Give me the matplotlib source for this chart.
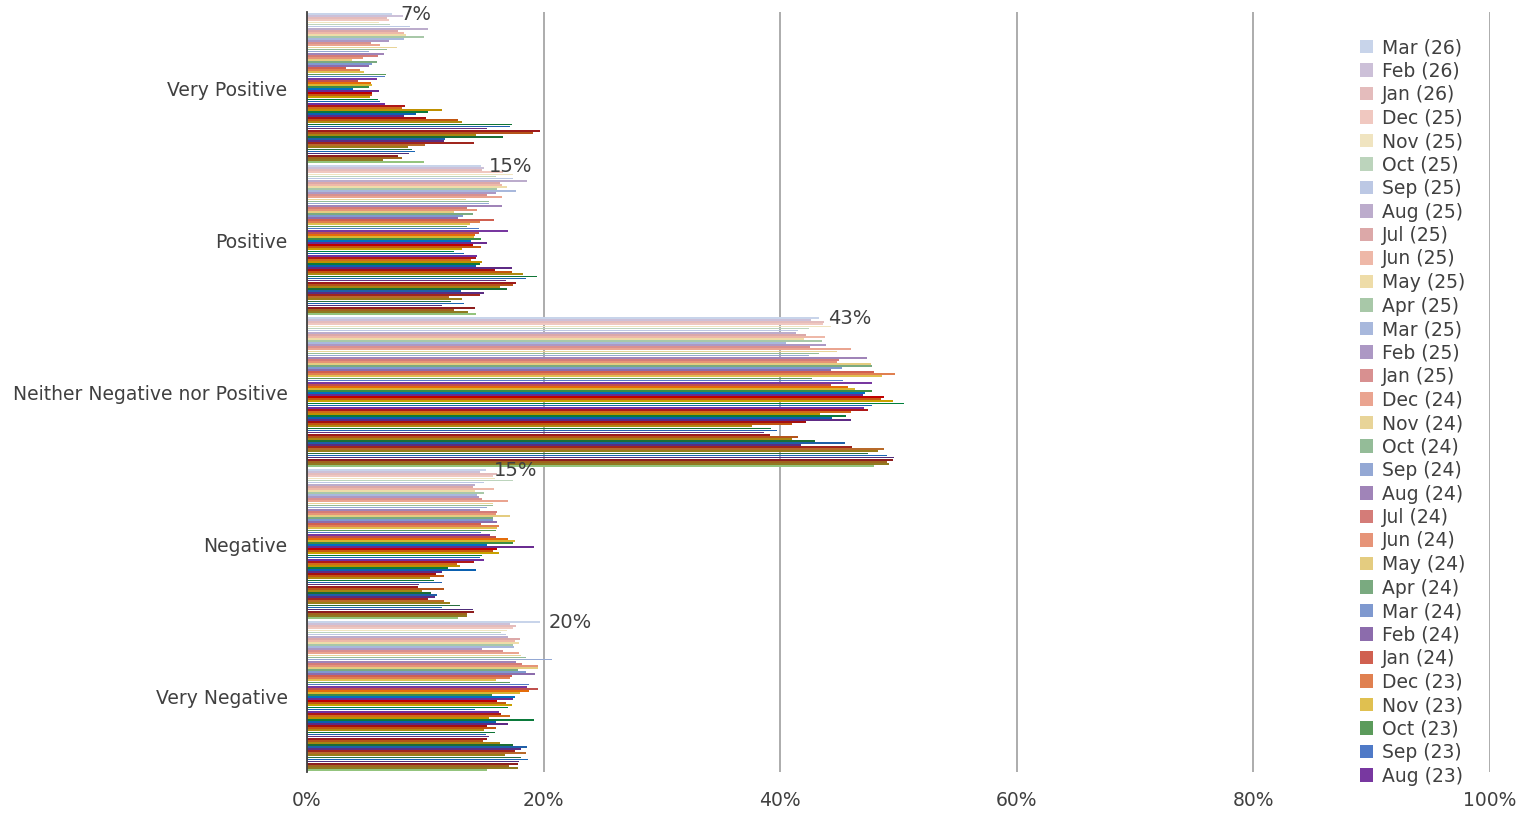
import numpy as np
import matplotlib.pyplot as plt
from matplotlib.patches import Patch

# categorias (eixo y, de cima para baixo)
categorias = ['Very Positive', 'Positive', 'Neither Negative nor Positive',
              'Negative', 'Very Negative']

# valores (%) por categoria, da serie mais recente (Mar 26) para a mais antiga
muito_pos = [7.2, 8.1, 6.8, 6.9, 6.1, 7.0, 8.7, 10.2, 7.7, 8.2,
             8.4, 9.9, 8.2, 6.9, 5.4, 6.2, 7.6, 6.8, 5.2, 6.5,
             6.0, 4.7, 3.8, 5.9, 5.5, 5.2, 3.3, 4.5, 4.8, 6.7,
             6.6, 5.9, 4.3, 5.4, 5.5, 5.2, 3.9, 6.1, 5.5, 5.5,
             5.3, 6.0, 6.2, 6.6, 8.3, 8.0, 11.4, 10.2, 9.2, 8.2,
             10.1, 12.8, 13.1, 17.3, 17.2, 15.2, 19.7, 19.1, 14.3, 16.6,
             11.7, 11.6, 14.1, 10.0, 8.5, 8.9, 9.1, 8.6, 7.7, 8.0,
             6.4, 9.9]
positivo = [14.7, 15.0, 14.8, 16.6, 17.4, 16.0, 17.4, 18.6, 16.3, 16.5,
            16.9, 16.1, 17.7, 16.0, 15.2, 16.5, 13.4, 15.4, 15.4, 16.5,
            13.5, 14.4, 12.4, 14.0, 13.2, 12.8, 15.8, 14.6, 13.8, 13.5,
            14.5, 17.0, 14.5, 14.2, 14.1, 14.7, 13.9, 15.2, 14.0, 14.7,
            13.1, 12.4, 13.3, 14.4, 14.3, 13.9, 14.8, 14.6, 14.3, 17.3,
            15.9, 17.3, 18.3, 19.4, 18.5, 16.8, 17.7, 17.4, 16.3, 16.9,
            13.0, 15.0, 14.6, 12.0, 13.1, 12.2, 13.3, 11.4, 14.2, 12.4,
            13.6, 14.3]
neutro = [43.3, 42.6, 43.7, 43.6, 44.3, 42.4, 41.5, 41.3, 42.2, 43.8,
          42.0, 43.5, 40.5, 43.9, 42.5, 46.0, 44.8, 43.3, 42.4, 47.3,
          45.0, 44.8, 47.7, 47.8, 45.2, 44.3, 47.9, 49.7, 48.6, 42.7,
          45.3, 47.8, 44.3, 45.7, 46.3, 47.8, 47.2, 47.0, 48.8, 48.5,
          49.5, 50.5, 47.8, 47.1, 47.4, 46.0, 43.4, 45.6, 44.4, 46.0,
          42.2, 41.0, 37.6, 39.2, 39.7, 38.6, 39.1, 41.5, 41.0, 42.9,
          45.5, 41.8, 46.1, 48.8, 48.3, 47.4, 49.0, 49.6, 49.5, 49.0,
          49.2, 47.9]
negativo = [15.1, 14.6, 16.1, 15.7, 15.9, 17.4, 15.0, 14.2, 14.0, 15.8,
            14.2, 15.0, 14.4, 14.5, 14.8, 17.0, 15.7, 15.7, 15.2, 14.6,
            16.1, 16.0, 17.2, 15.7, 15.7, 16.1, 14.7, 16.2, 16.1, 16.0,
            14.7, 15.5, 16.0, 17.0, 17.6, 17.4, 15.2, 19.2, 16.1, 15.7,
            16.2, 14.8, 14.6, 15.0, 14.1, 12.7, 12.9, 11.9, 14.3, 11.4,
            10.9, 11.6, 10.4, 10.7, 11.4, 9.5, 9.4, 11.6, 9.7, 10.5,
            11.0, 10.8, 10.2, 11.6, 12.1, 12.9, 11.4, 14.0, 14.1, 13.5,
            13.5, 12.8]
muito_neg = [19.7, 17.2, 17.7, 17.4, 16.9, 16.4, 16.8, 17.0, 18.0, 17.6,
             17.9, 17.4, 17.5, 14.8, 16.6, 17.9, 18.1, 18.5, 20.7, 17.7,
             18.2, 19.5, 19.5, 17.8, 18.5, 19.3, 17.3, 17.2, 16.0, 17.2,
             18.8, 18.6, 19.5, 18.8, 18.0, 15.6, 17.6, 17.4, 16.1, 16.8,
             17.3, 17.0, 14.2, 16.2, 16.4, 17.2, 15.4, 19.2, 16.0, 17.0,
             15.2, 16.0, 15.0, 15.9, 15.1, 15.4, 15.2, 14.9, 16.3, 17.4,
             18.6, 18.1, 17.6, 18.5, 16.7, 18.1, 18.7, 17.9, 17.8, 17.1,
             17.8, 15.2]

# cores: blocos de 6 (azul, roxo, vermelho, laranja, amarelo, verde), do claro ao escuro
cores_blocos = [
    ['#C8D4EA', '#CCC0D8', '#E4BCBC', '#F0C8C0', '#F0E4C0', '#BCD4BC'],
    ['#BCC8E4', '#BCACCC', '#DCA8A8', '#EEB8A8', '#EEDCA8', '#A8C8A8'],
    ['#A8B8DC', '#AC98C4', '#D89090', '#EAA490', '#E8D498', '#94BC98'],
    ['#94A8D4', '#A084B8', '#D47C78', '#E69478', '#E4CC80', '#7AAA80'],
    ['#7F99CF', '#8C6CAC', '#D06050', '#E08050', '#E0C050', '#5B9B5B'],
    ['#4F7AC7', '#7838A0', '#C0504D', '#E46C0A', '#D9B530', '#3C8D45'],
    ['#0070C0', '#6A2C91', '#C00000', '#C55A11', '#C9A100', '#00803C'],
    ['#1565B8', '#7030A0', '#B01818', '#D06A1A', '#BF9000', '#0B7A3B'],
    ['#0A60B0', '#5E2A85', '#A51010', '#C25510', '#B08A10', '#107536'],
    ['#2060B0', '#62307F', '#9E1B1B', '#B5541A', '#A88612', '#1B6E35'],
    ['#1F5FA8', '#5B2D82', '#A0261E', '#B86A2A', '#9A7D18', '#2A7040'],
    ['#1A66B5', '#4E2D7A', '#8E1E1E', '#A0651E', '#8F7A20', '#93C47D'],
]
cores = [c for bloco in cores_blocos for c in bloco]

# rotulos das series (Mar 26 ate Apr 20)
meses = ['Mar', 'Feb', 'Jan', 'Dec', 'Nov', 'Oct', 'Sep', 'Aug', 'Jul', 'Jun', 'May', 'Apr']
rotulos = []
ano = 26
for i in range(len(neutro)):
    m = meses[i % 12]
    rotulos.append(f'{m} ({ano})')
    if m == 'Jan':
        ano -= 1

cor_texto = '#404040'
fonte = 13.5
n = len(neutro)
slot = 1 / (n + 1)

fig = plt.figure(figsize=(15.36, 8.16), dpi=100)
ax = fig.add_axes([307 / 1536, 1 - 772 / 816, (1490 - 307) / 1536, 760 / 816])

pos = np.arange(len(categorias))
for i in range(n):
    vals = [muito_pos[i], positivo[i], neutro[i], negativo[i], muito_neg[i]]
    ys = pos - 0.5 + slot * 0.5 + (i + 0.5) * slot
    ax.barh(ys, vals, height=slot * 0.85, color=cores[i], linewidth=0, zorder=2)
    # rotulos de dados so na serie mais recente
    if i == 0:
        for y, v in zip(ys, vals):
            ax.annotate(f'{v:.0f}%', (v, y), xytext=(6, 0), textcoords='offset points',
                        va='center', ha='left', fontsize=14, color=cor_texto, zorder=3)

ax.set_xlim(0, 100)
ax.set_ylim(len(categorias) - 0.5, -0.5)
ax.set_xticks(np.arange(0, 101, 20))
ax.set_xticklabels([f'{t}%' for t in range(0, 101, 20)])
ax.set_yticks(pos)
ax.set_yticklabels(categorias)
ax.tick_params(axis='both', length=0, labelsize=fonte, labelcolor=cor_texto)
ax.tick_params(axis='y', pad=14)
ax.tick_params(axis='x', pad=14)
ax.grid(axis='x', color='#A6A6A6', linewidth=1.3, zorder=0)
ax.set_axisbelow(True)
for lado in ['top', 'right', 'bottom']:
    ax.spines[lado].set_visible(False)
ax.spines['left'].set_color('#404040')
ax.spines['left'].set_linewidth(1.3)
ax.spines['left'].set_zorder(4)

# legenda (cortada em Aug 23 como no original)
handles = [Patch(facecolor=cores[i], linewidth=0) for i in range(32)]
fig.legend(handles, rotulos[:32], loc='upper left',
           bbox_to_anchor=(1360 / 1536, 1 - 38 / 816), frameon=False,
           fontsize=fonte, handlelength=0.7, handleheight=0.7, handletextpad=0.45,
           labelspacing=0.24, borderaxespad=0, borderpad=0, labelcolor=cor_texto)

fig.savefig('out.png', dpi=100, facecolor='white')
